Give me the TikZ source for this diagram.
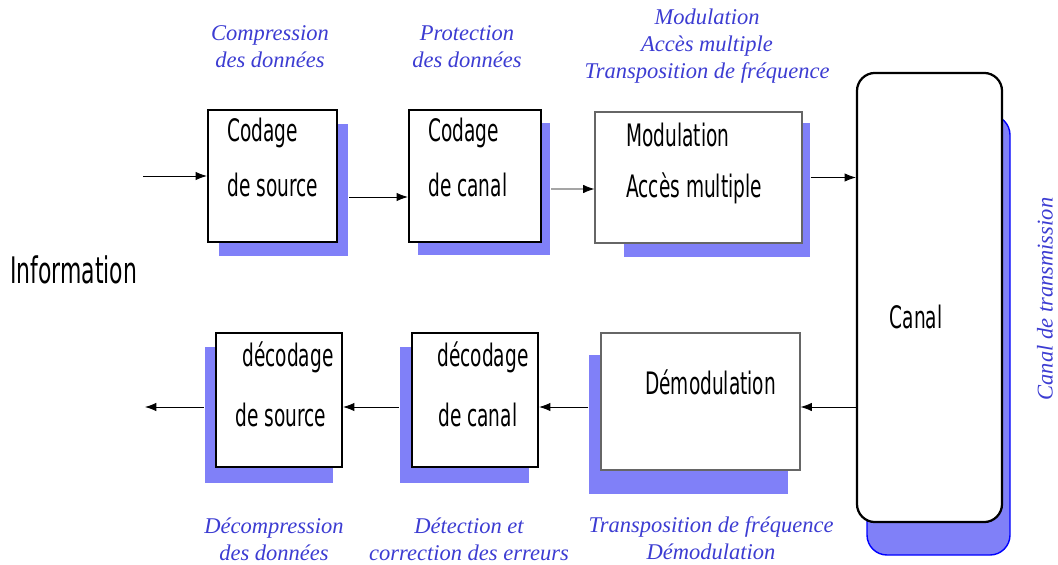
\documentclass[tikz,border=0pt]{standalone}
\usepackage{fontspec}
\usepackage{tikz}
\usetikzlibrary{calc,arrows.meta}
\newfontfamily\boxfont[FakeStretch=0.6]{DejaVu Sans}
\newfontfamily\lblfont{Liberation Serif}
\definecolor{shadowblue}{RGB}{128,128,248}
\definecolor{lblblue}{RGB}{60,60,210}
\tikzset{
	thickbox/.style={draw=black, line width=1.6pt, fill=white, inner sep=0pt},
	thinbox/.style={draw=black!60, line width=0.8pt, fill=white, inner sep=0pt},
	shadow/.style={fill=shadowblue},
	boxtxt/.style={font=\boxfont\fontsize{22}{26}\selectfont, anchor=west, inner sep=0pt},
	lbl/.style={font=\lblfont\itshape\fontsize{16}{19}\selectfont, text=lblblue, align=center, inner sep=0pt},
	arr/.style={line width=0.6pt, -{Latex[length=8pt,width=6pt]}}
}

\begin{document}
\begin{tikzpicture}[x=0.025cm, y=-0.025cm]
		%%%%% START %%%%%
		\useasboundingbox (0,0) rectangle (1058,565);
		
		% shadows
		\fill[shadow] (219,124) rectangle (348,256);
		\fill[shadow] (418,123) rectangle (550,255);
		\fill[shadow] (624,123) rectangle (810,257);
		\draw[shadow, draw=blue, line width=1pt, rounded corners=0.5cm] (867,115) rectangle (1010,555);
		\fill[shadow] (589,355) rectangle (788,494);
		\fill[shadow] (400,347) rectangle (529,483);
		\fill[shadow] (205,347) rectangle (333,483);
		
		% top row
		\node[thickbox, minimum width=3.225cm, minimum height=3.3cm] (cs) at (272.5,176) {};
		\node[boxtxt] (cs1) at (227,133) {Codage};
		\node[boxtxt] (cs2) at (227,185) {de source};
		
		\node[thickbox, minimum width=3.3cm, minimum height=3.3cm] (cc) at (475,176) {};
		\node[boxtxt] (cc1) at (428,133) {Codage};
		\node[boxtxt] (cc2) at (428,185) {de canal};
		
		\node[thinbox, minimum width=5.175cm, minimum height=3.275cm] (mod) at (698.5,177.5) {};
		\node[boxtxt] (mod1) at (626,135) {Modulation};
		\node[boxtxt] (mod2) at (626,188) {Accès multiple};
		
		% canal
		\node[thickbox, rounded corners=0.45cm, minimum width=3.625cm, minimum height=11.225cm] (canal) at (929.5,297.5) {};
		\node[boxtxt, anchor=center] (canaltxt) at (916,317) {Canal};
		
		% bottom row
		\node[thinbox, minimum width=4.975cm, minimum height=3.425cm] (dem) at (700.5,401.5) {};
		\node[boxtxt] (dem1) at (645,382) {Démodulation};
		
		\node[thickbox, minimum width=3.15cm, minimum height=3.35cm] (dc) at (475,400) {};
		\node[boxtxt] (dc1) at (437,357) {décodage};
		\node[boxtxt] (dc2) at (438,415) {de canal};
		
		\node[thickbox, minimum width=3.15cm, minimum height=3.35cm] (ds) at (279,400) {};
		\node[boxtxt] (ds1) at (242,357) {décodage};
		\node[boxtxt] (ds2) at (235,415) {de source};
		
		\node[boxtxt, font=\boxfont\fontsize{26}{30}\selectfont] (info) at (10,270) {Information};
		
		% labels
		\node[lbl] (lcomp) at (270,47) {Compression\\des données};
		\node[lbl] (lprot) at (467,47) {Protection\\des données};
		\node[lbl] (lmod) at (707,46) {Modulation\\Accès multiple\\Transposition de fréquence};
		\node[lbl] (ldecomp) at (274,539) {Décompression\\des données};
		\node[lbl] (ldet) at (469,539) {Détection et\\correction des erreurs};
		\node[lbl] (ldem) at (711,538) {Transposition de fréquence\\Démodulation};
		\node[lbl, rotate=90] (lcanal) at (1045,299) {Canal de transmission};
		
		% connectors
		\coordinate (in) at (143,176);
		\coordinate (out) at (145,407);
		\coordinate (lowrow) at (0,407);
		\draw[arr] (in) -- (in -| cs.west);
		\draw[arr] ($(cs.east)+(11,21)$) -- ($(cc.west)+(0,21)$);
		\draw[arr] ($(cc.east)+(9,13)$) -- ($(mod.west)+(0,11.5)$);
		\draw[arr] ($(mod.east)+(8,0)$) -- (mod.east -| canal.west);
		\draw[arr] (canal.west |- lowrow) -- (dem.east |- lowrow);
		\draw[arr] ($(dem.west |- lowrow)+(-12,0)$) -- (dc.east |- lowrow);
		\draw[arr] ($(dc.west |- lowrow)+(-12,0)$) -- (ds.east |- lowrow);
		\draw[arr] ($(ds.west |- lowrow)+(-11,0)$) -- (out);
		
		%%%%% END %%%%%
\end{tikzpicture}
\end{document}
